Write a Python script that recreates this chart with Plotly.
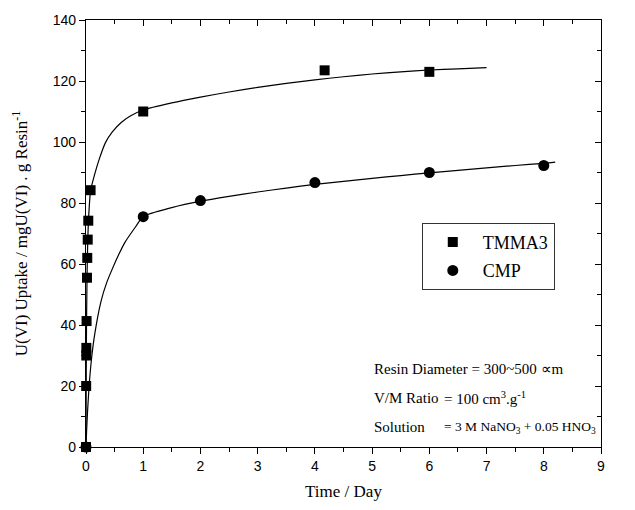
import plotly.graph_objects as go

# ---- data ----
tmma3_x = [0, 0.003, 0.005, 0.006, 0.01, 0.017, 0.022, 0.03, 0.04, 0.08, 1, 4.17, 6]
tmma3_y = [0, 20, 30, 32.5, 41.3, 55.5, 62, 68, 74.2, 84.2, 110, 123.5, 123]

cmp_x = [0, 1, 2, 4, 6, 8]
cmp_y = [0, 75.5, 80.8, 86.7, 90, 92.3]

# fitted curves
tmma3_fit_x = [0, 0.003, 0.006, 0.01, 0.02, 0.03, 0.045, 0.08, 0.15, 0.23, 0.34, 0.46, 0.62, 0.79, 1,
               1.5, 2, 2.5, 3, 3.5, 4, 4.5, 5, 5.5, 6, 6.5, 7]
tmma3_fit_y = [0, 18, 31, 42, 58, 67, 75, 84, 89.3, 94.3, 99.8, 103.3, 106.5, 108.7, 110.5,
               112.8, 114.7, 116.4, 117.9, 119.2, 120.4, 121.4, 122.3, 123.0, 123.6, 124.0, 124.4]

cmp_fit_x = [0, 0.01, 0.025, 0.056, 0.1, 0.15, 0.26, 0.36, 0.46, 0.57, 0.68, 0.87, 1,
             1.5, 2, 2.5, 3, 3.5, 4, 4.5, 5, 5.5, 6, 6.5, 7, 7.5, 8, 8.2]
cmp_fit_y = [0, 5, 11, 20.4, 29.5, 36.7, 47.6, 53.8, 58.4, 63, 67.1, 72.3, 75.6,
             78.5, 80.6, 82.2, 83.6, 84.9, 86.1, 87.1, 88.1, 89.0, 89.9, 90.7, 91.5, 92.3, 93.0, 93.4]

x_range = [0, 9]
y_range = [0, 140]

SERIF = "Liberation Serif"
SANS = "Liberation Sans"

fig = go.Figure()

fig.add_trace(go.Scatter(x=tmma3_fit_x, y=tmma3_fit_y, mode="lines",
                         line=dict(color="black", width=1.2, shape="spline", smoothing=0.6),
                         showlegend=False, hoverinfo="skip"))
fig.add_trace(go.Scatter(x=cmp_fit_x, y=cmp_fit_y, mode="lines",
                         line=dict(color="black", width=1.2, shape="spline", smoothing=0.6),
                         showlegend=False, hoverinfo="skip"))
fig.add_trace(go.Scatter(x=tmma3_x, y=tmma3_y, mode="markers", name="TMMA3", legendgroup="a",
                         marker=dict(symbol="square", size=10, color="black"), cliponaxis=False))
fig.add_trace(go.Scatter(x=cmp_x, y=cmp_y, mode="markers", name="CMP", legendgroup="b",
                         marker=dict(symbol="circle", size=11, color="black"), cliponaxis=False))
# empty trace to anchor the mirrored axes
fig.add_trace(go.Scatter(x=[None], y=[None], xaxis="x2", yaxis="y2", showlegend=False, hoverinfo="skip"))

axis_common = dict(showgrid=False, zeroline=False, showline=True, linecolor="black", linewidth=1.3,
                   tickcolor="black", tickwidth=1.3)

fig.update_layout(
    width=635, height=510,
    margin=dict(l=86, r=34, t=16, b=63),
    plot_bgcolor="white", paper_bgcolor="white",
    xaxis=dict(range=x_range, dtick=1, ticks="outside", ticklen=6,
               minor=dict(dtick=0.5, ticks="outside", ticklen=4, tickcolor="black", tickwidth=1.3),
               tickfont=dict(family=SANS, size=14, color="black"),
               title=dict(text="Time / Day", font=dict(family=SERIF, size=17, color="black"), standoff=12),
               **axis_common),
    yaxis=dict(range=y_range, dtick=20, ticks="outside", ticklen=6,
               minor=dict(dtick=10, ticks="outside", ticklen=4, tickcolor="black", tickwidth=1.3),
               tickfont=dict(family=SANS, size=14, color="black"),
               title=dict(text="U(VI) Uptake / mgU(VI) . g Resin<sup>-1</sup>",
                          font=dict(family=SERIF, size=17, color="black"), standoff=20),
               **axis_common),
    xaxis2=dict(range=x_range, overlaying="x", side="top", anchor="y2", dtick=1, ticks="inside", ticklen=6,
                minor=dict(dtick=0.5, ticks="inside", ticklen=4, tickcolor="black", tickwidth=1.3),
                showticklabels=False, **axis_common),
    yaxis2=dict(range=y_range, overlaying="y", side="right", anchor="x2", dtick=20, ticks="inside", ticklen=6,
                minor=dict(dtick=10, ticks="inside", ticklen=4, tickcolor="black", tickwidth=1.3),
                showticklabels=False, **axis_common),
    legend=dict(x=0.652, y=0.525, xanchor="left", yanchor="top",
                bordercolor="#333333", borderwidth=1, bgcolor="white",
                font=dict(family=SERIF, size=18, color="black"),
                tracegroupgap=2, itemwidth=50),
    showlegend=True,
)

ann_font = dict(family=SERIF, size=15, color="black")
val3_font = dict(family=SERIF, size=13.5, color="black")
x_lab = 5.0
x_eq = 6.22
fig.add_annotation(x=x_lab, y=25.7, xref="x", yref="y", xanchor="left", yanchor="middle",
                   text="Resin Diameter = 300~500 ∝m", showarrow=False, font=ann_font)
fig.add_annotation(x=x_lab, y=16.0, xref="x", yref="y", xanchor="left", yanchor="middle",
                   text="V/M Ratio", showarrow=False, font=ann_font)
fig.add_annotation(x=x_eq, y=16.0, xref="x", yref="y", xanchor="left", yanchor="middle",
                   text="= 100 cm<sup>3</sup>.g<sup>-1</sup>", showarrow=False, font=ann_font)
fig.add_annotation(x=x_lab, y=6.5, xref="x", yref="y", xanchor="left", yanchor="middle",
                   text="Solution", showarrow=False, font=ann_font)
fig.add_annotation(x=x_eq, y=6.5, xref="x", yref="y", xanchor="left", yanchor="middle",
                   text="= 3 M NaNO<sub>3</sub> + 0.05 HNO<sub>3</sub>", showarrow=False, font=val3_font)

fig.write_html("out.html")
